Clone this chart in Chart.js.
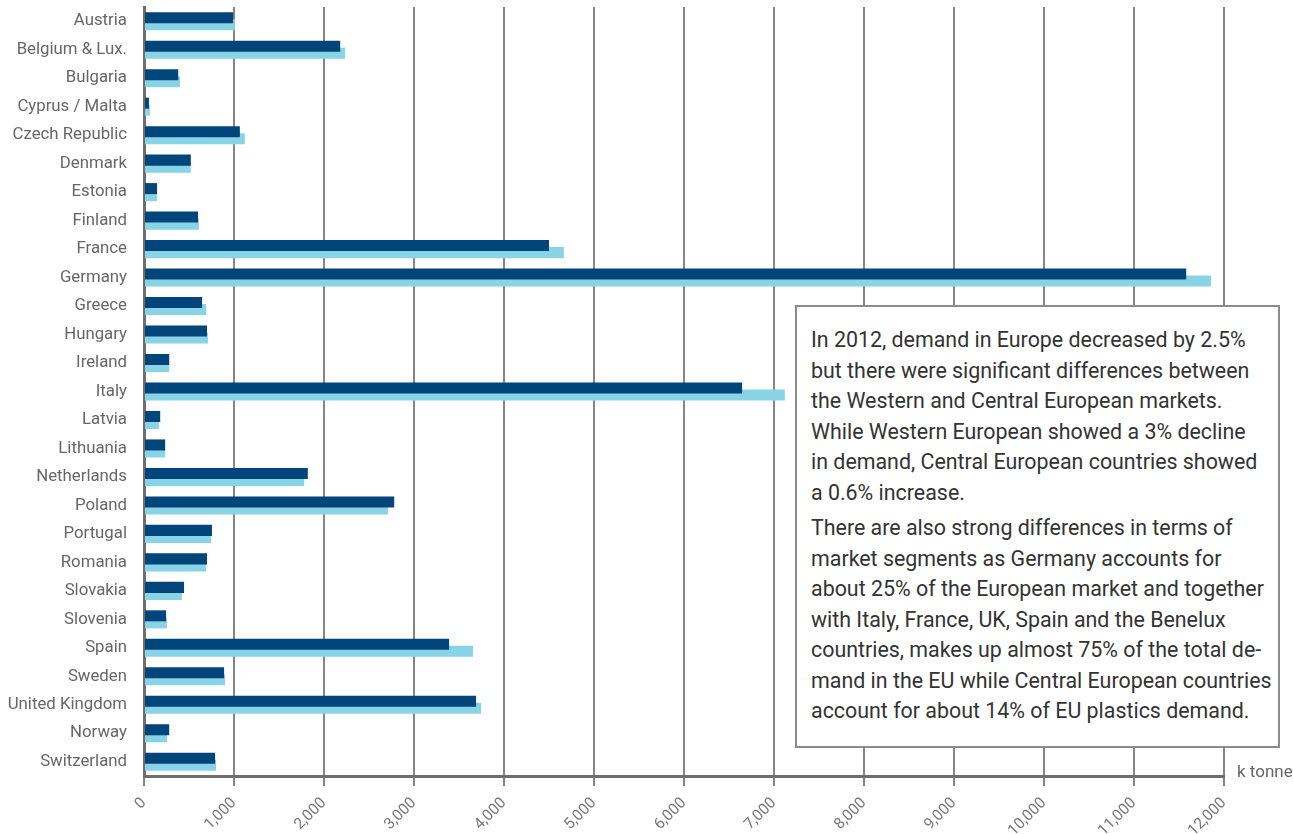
<!DOCTYPE html>
<html>
<head>
<meta charset="utf-8">
<title>Plastics demand by country</title>
<script src="https://cdn.jsdelivr.net/npm/chart.js@4.4.1/dist/chart.umd.min.js"></script>
<style>
body { margin: 0; background: #fff; }
#wrap { position: relative; width: 1293px; height: 834px; }
#note {
	position: absolute; left: 795px; top: 305px;
	width: 485px; height: 443px; box-sizing: border-box;
	background: #fff; border: 2px solid #8c8c8c;
	padding: 18px 8px 0 14px;
	font-family: Roboto, sans-serif; font-size: 21.4px; line-height: 30.5px; color: #333;
	white-space: nowrap;
}
#note p { margin: 0; }
#note p + p { margin-top: 5px; }
</style>
</head>
<body>
<div id="wrap">
	<canvas id="chart" width="1293" height="834"></canvas>
	<div id="note">
		<p>In 2012, demand in Europe decreased by 2.5%<br>but there were significant differences between<br>the Western and Central European markets.<br>While Western European showed a 3% decline<br>in demand, Central European countries showed<br>a 0.6% increase.</p>
		<p>There are also strong differences in terms of<br>market segments as Germany accounts for<br>about 25% of the European market and together<br>with Italy, France, UK, Spain and the Benelux<br>countries, makes up almost 75% of the total de-<br>mand in the EU while Central European countries<br>account for about 14% of EU plastics demand.</p>
	</div>
</div>
<script>
// demand in k tonne
const countries = ['Austria', 'Belgium & Lux.', 'Bulgaria', 'Cyprus / Malta', 'Czech Republic',
	'Denmark', 'Estonia', 'Finland', 'France', 'Germany', 'Greece', 'Hungary', 'Ireland',
	'Italy', 'Latvia', 'Lithuania', 'Netherlands', 'Poland', 'Portugal', 'Romania',
	'Slovakia', 'Slovenia', 'Spain', 'Sweden', 'United Kingdom', 'Norway', 'Switzerland'];
const demand2012 = [990, 2180, 380, 55, 1065, 520, 145, 600, 4500, 11580, 645, 700, 280,
	6645, 180, 235, 1820, 2780, 755, 700, 445, 245, 3390, 890, 3690, 280, 790];
const demand2011 = [1010, 2235, 400, 65, 1120, 520, 145, 610, 4665, 11855, 690, 710, 280,
	7120, 165, 235, 1780, 2710, 745, 690, 420, 255, 3655, 900, 3745, 255, 800];
const xTicksMax = 12000;
const xTicksStep = 1000;
const xUnit = 'k tonne';

const unitLabel = {
	id: 'unitLabel',
	afterDraw(chart) {
		const ctx = chart.ctx;
		const area = chart.chartArea;
		ctx.save();
		ctx.font = '17px Roboto';
		ctx.fillStyle = '#666';
		ctx.textBaseline = 'middle';
		ctx.fillText(xUnit, area.right + 13, area.bottom - 3);
		ctx.restore();
	}
};

const config = {
	type: 'bar',
	data: {
		labels: countries,
		datasets: [
			{ label: '2012', data: demand2012, backgroundColor: '#02457a' },
			{ label: '2011', data: demand2011, backgroundColor: '#88d4e6' }
		]
	},
	options: {
		indexAxis: 'y',
		responsive: false,
		animation: false,
		categoryPercentage: 0.494,
		barPercentage: 1.57,
		layout: { padding: { top: 7, right: 69, left: 0, bottom: 0 } },
		plugins: {
			legend: { display: false },
			tooltip: { enabled: false }
		},
		scales: {
			x: {
				min: 0,
				max: xTicksMax,
				afterFit: function (scale) {
					scale.height = 58;
					scale.paddingLeft = 0;
					scale.paddingRight = 0;
				},
				grid: { color: '#858585', lineWidth: 2, tickLength: 10 },
				border: { color: '#6e6e6e', width: 3 },
				ticks: {
					stepSize: xTicksStep,
					autoSkip: false,
					minRotation: 45,
					maxRotation: 45,
					padding: 8,
					color: '#777',
					font: { family: 'Roboto', size: 15.5 },
					callback: function (v) { return v.toLocaleString('en-US'); }
				}
			},
			y: {
				afterFit: function (scale) {
					scale.width = 144;
					scale.paddingTop = 0;
					scale.paddingBottom = 0;
				},
				grid: { display: false, drawTicks: false },
				border: { color: '#6e6e6e', width: 3 },
				ticks: {
					padding: 17,
					color: '#666',
					font: { family: 'Roboto', size: 16.8 }
				}
			}
		}
	},
	plugins: [unitLabel]
};

new Chart(document.getElementById('chart'), config);
</script>
</body>
</html>
